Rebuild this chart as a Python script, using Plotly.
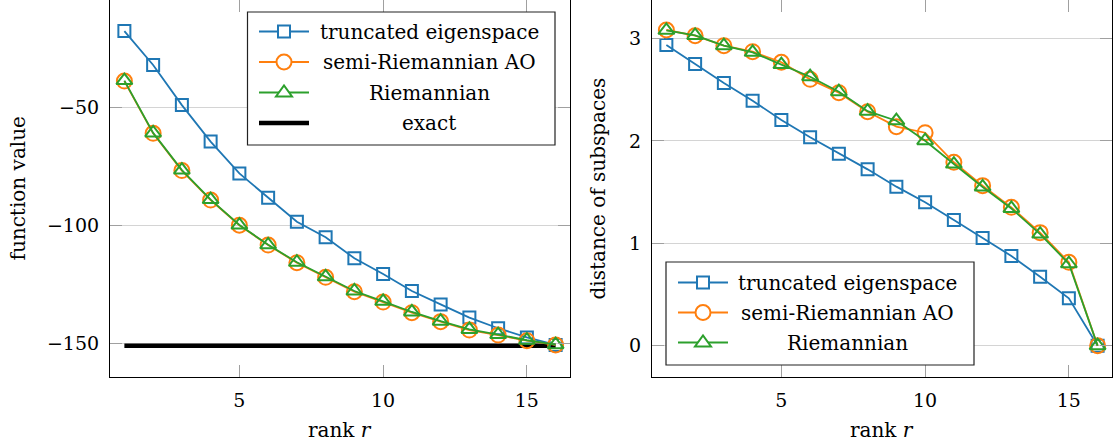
import plotly.graph_objects as go

W, H = 1115, 446

# ---------------- data ----------------
rank = list(range(1, 17))

# left panel: function value
fv_truncated = [-17.5, -31.9, -48.9, -64.4, -77.9, -88.2, -98.4, -105.0,
                -113.9, -120.6, -127.8, -133.5, -139.1, -143.6, -147.5, -150.7]
fv_semi = [-38.7, -60.9, -76.7, -89.2, -99.9, -108.3, -115.8, -122.0,
           -128.1, -132.5, -137.0, -140.8, -144.4, -146.5, -148.9, -150.7]
fv_riem = [-38.5, -60.7, -76.5, -89.0, -99.8, -108.2, -115.6, -121.8,
           -127.8, -132.2, -136.7, -140.6, -144.1, -146.3, -148.7, -150.6]
exact_rank = [1, 16]
exact_value = [-151.0, -151.0]

# right panel: distance of subspaces
ds_truncated = [2.936, 2.75, 2.565, 2.393, 2.204, 2.035, 1.875, 1.722,
                1.553, 1.40, 1.228, 1.052, 0.876, 0.674, 0.463, 0.0]
ds_semi = [3.083, 3.027, 2.93, 2.871, 2.768, 2.601, 2.471, 2.285,
           2.139, 2.08, 1.791, 1.563, 1.351, 1.104, 0.814, 0.0]
ds_riem = [3.08, 3.03, 2.93, 2.865, 2.745, 2.627, 2.48, 2.29,
           2.197, 2.002, 1.774, 1.55, 1.34, 1.09, 0.80, 0.0]

x_ticks = [5, 10, 15]
fv_ticks = [-150, -100, -50]
ds_ticks = [0, 1, 2, 3]

names = ["truncated eigenspace", "semi-Riemannian AO", "Riemannian", "exact"]

# ---------------- style ----------------
BLUE, ORANGE, GREEN = "#1f77b4", "#ff7f0e", "#2ca02c"
FONT = "DejaVu Serif"
FS = 19
FS_TXT = 20
GRID = "#d4d4d4"
TICKC = "#a0a0a0"

def px_x(p):
    return p / W

def px_y(p):
    return 1 - p / H

fig = go.Figure()

def add_series(x, y, color, symbol, size, xa, ya):
    fig.add_trace(go.Scatter(
        x=x, y=y, mode="lines+markers", xaxis=xa, yaxis=ya,
        line=dict(color=color, width=1.8),
        marker=dict(symbol=symbol, size=size, color=color,
                    line=dict(color=color, width=2)),
        showlegend=False, hoverinfo="skip"))

# left panel
fig.add_trace(go.Scatter(x=exact_rank, y=exact_value, mode="lines", xaxis="x", yaxis="y",
                         line=dict(color="black", width=4.5), showlegend=False))
add_series(rank, fv_truncated, BLUE, "square-open", 12, "x", "y")
add_series(rank, fv_semi, ORANGE, "circle-open", 15, "x", "y")
add_series(rank, fv_riem, GREEN, "triangle-up-open", 14, "x", "y")
# right panel
add_series(rank, ds_truncated, BLUE, "square-open", 12, "x2", "y2")
add_series(rank, ds_semi, ORANGE, "circle-open", 15, "x2", "y2")
add_series(rank, ds_riem, GREEN, "triangle-up-open", 14, "x2", "y2")
# dummy traces so the top tick axes are drawn
fig.add_trace(go.Scatter(x=[None], y=[None], xaxis="x3", yaxis="y", showlegend=False))
fig.add_trace(go.Scatter(x=[None], y=[None], xaxis="x4", yaxis="y2", showlegend=False))

L_DOM = [px_x(110), px_x(570)]
R_DOM = [px_x(652), px_x(1112)]
Y_DOM = [px_y(377), 1.0]
XR = [0.5, 16.5]

xcommon = dict(range=XR, tickvals=x_ticks, ticks="inside", ticklen=12, tickwidth=1,
               tickcolor=TICKC, showgrid=False, zeroline=False,
               tickfont=dict(family=FONT, size=FS, color="black"),
               automargin=False, ticklabelstandoff=6)
ycommon = dict(ticks="inside", ticklen=12, tickwidth=1, tickcolor=TICKC,
               showgrid=True, gridcolor=GRID, gridwidth=1, zeroline=False,
               showline=True, linecolor="black", linewidth=1.2, mirror="ticks",
               tickfont=dict(family=FONT, size=FS, color="black"),
               automargin=False, ticklabelstandoff=6)
xtop = dict(range=XR, tickvals=x_ticks, ticks="inside", ticklen=12, tickwidth=1,
            tickcolor=TICKC, showgrid=False, zeroline=False, showticklabels=False,
            showline=True, linecolor="#c8c8c8", linewidth=1, side="top", automargin=False)

fig.update_layout(
    width=W, height=H,
    margin=dict(l=0, r=0, t=0, b=0),
    paper_bgcolor="white", plot_bgcolor="white",
    showlegend=False,
    xaxis=dict(domain=L_DOM, anchor="y", showline=True, linecolor="black", linewidth=1.2,
               **xcommon),
    yaxis=dict(domain=Y_DOM, anchor="x", range=[-164.3, -4.3], tickvals=fv_ticks, **ycommon),
    xaxis2=dict(domain=R_DOM, anchor="y2", showline=True, linecolor="black", linewidth=1.2,
                **xcommon),
    yaxis2=dict(domain=Y_DOM, anchor="x2", range=[-0.306, 3.376], tickvals=ds_ticks, **ycommon),
    xaxis3=dict(overlaying="x", anchor="y", **xtop),
    xaxis4=dict(overlaying="x2", anchor="y2", **xtop),
)

# axis titles
ann = []
ann.append(dict(text="function value", x=px_x(18), y=px_y(188.5), textangle=-90))
ann.append(dict(text="distance of subspaces", x=px_x(598), y=px_y(188.5), textangle=-90))
ann.append(dict(text="rank <i>r</i>", x=px_x(340), y=px_y(430)))
ann.append(dict(text="rank <i>r</i>", x=px_x(882), y=px_y(430)))

shapes = []

def legend(box, rows, entries, line_x0, line_x1, text_cx):
    bx0, bx1, by0, by1 = box
    shapes.append(dict(type="rect", xref="paper", yref="paper",
                       x0=px_x(bx0), x1=px_x(bx1), y0=px_y(by1), y1=px_y(by0),
                       fillcolor="white", line=dict(color="#222222", width=1.2),
                       layer="above"))
    mx = (line_x0 + line_x1) / 2
    for ry, (name, color, kind) in zip(rows, entries):
        lw = 4.5 if kind == "none" else 1.8
        shapes.append(dict(type="line", xref="paper", yref="paper",
                           x0=px_x(line_x0), x1=px_x(line_x1), y0=px_y(ry), y1=px_y(ry),
                           line=dict(color=color, width=lw), layer="above"))
        if kind == "square":
            s = 6
            shapes.append(dict(type="rect", xref="paper", yref="paper",
                               x0=px_x(mx - s), x1=px_x(mx + s), y0=px_y(ry + s), y1=px_y(ry - s),
                               fillcolor="white", line=dict(color=color, width=2), layer="above"))
        elif kind == "circle":
            r = 7.5
            shapes.append(dict(type="circle", xref="paper", yref="paper",
                               x0=px_x(mx - r), x1=px_x(mx + r), y0=px_y(ry + r), y1=px_y(ry - r),
                               fillcolor="white", line=dict(color=color, width=2), layer="above"))
        elif kind == "triangle":
            hw, top, bot = 8, 7, 4
            path = "M {},{} L {},{} L {},{} Z".format(
                px_x(mx - hw), px_y(ry + bot), px_x(mx + hw), px_y(ry + bot),
                px_x(mx), px_y(ry - top))
            shapes.append(dict(type="path", xref="paper", yref="paper", path=path,
                               fillcolor="white", line=dict(color=color, width=2), layer="above"))
        ann.append(dict(text=name, x=px_x(text_cx), y=px_y(ry)))

legend((247.5, 555, 12, 145), [31.5, 62, 92.5, 123],
       [(names[0], BLUE, "square"), (names[1], ORANGE, "circle"),
        (names[2], GREEN, "triangle"), (names[3], "black", "none")],
       259, 309, 429)
legend((666, 974, 262, 365), [282.5, 312.5, 342.5],
       [(names[0], BLUE, "square"), (names[1], ORANGE, "circle"),
        (names[2], GREEN, "triangle")],
       678, 728, 847.5)

for a in ann:
    a.update(xref="paper", yref="paper", showarrow=False, xanchor="center", yanchor="middle",
             font=dict(family=FONT, size=FS_TXT, color="black"))

fig.update_layout(annotations=ann, shapes=shapes)

fig.write_html("out.html")
